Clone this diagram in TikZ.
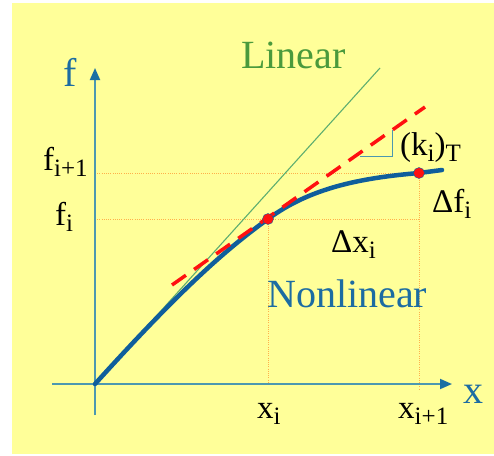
\documentclass[tikz,border=0pt]{standalone}
\usepackage{fontspec}
\setmainfont{LiberationSerif}[Extension=.ttf, UprightFont=*-Regular]
\newfontfamily\tnr{LiberationSerif}[Extension=.ttf, UprightFont=*-Regular]
\usetikzlibrary{arrows.meta}
\definecolor{bg}{HTML}{FFFF99}
\definecolor{axiscol}{HTML}{4C98B0}
\definecolor{tipcol}{HTML}{1A6FA3}
\definecolor{curvecol}{HTML}{0F5E9C}
\definecolor{bluetext}{HTML}{1C6CA2}
\definecolor{greentext}{HTML}{4A9A3C}
\definecolor{greenline}{HTML}{5EAE70}
\definecolor{dotcol}{HTML}{FFB04A}
\definecolor{redcol}{HTML}{FF1010}
\newcommand{\sbs}[1]{\raisebox{-0.2em}{\tnr\fontsize{25}{25}\selectfont #1}}
\tikzset{
  axis/.style={draw=axiscol, line width=1.8pt, -{Triangle[width=10pt,length=12pt,color=tipcol]}},
  guide/.style={draw=dotcol, line width=0.8pt, dash pattern=on 1pt off 1.2pt},
  curve/.style={draw=curvecol, line width=4.5pt, line cap=round},
  tangent/.style={draw=redcol, line width=3.5pt, dash pattern=on 17pt off 10pt},
  linline/.style={draw=greenline, line width=1.1pt},
  lab/.style={anchor=base west, inner sep=0pt, font=\tnr\fontsize{33}{38}\selectfont},
  big/.style={anchor=base west, inner sep=0pt, font=\tnr\fontsize{40}{48}\selectfont},
  pt/.style={circle, fill=redcol, draw=curvecol, line width=0.4pt, minimum size=11pt, inner sep=0pt},
  slope/.style={draw=axiscol, line width=1pt}
}
\begin{document}
\begin{tikzpicture}[x=1pt,y=-1pt]
\useasboundingbox (0,0) rectangle (494,455);
\fill[bg] (12,3) rectangle (494,454);
% coordinates
\coordinate (O) at (95,384);
\coordinate (vbot) at (95,415);
\coordinate (vtop) at (95,68);
\coordinate (hleft) at (52,384);
\coordinate (hright) at (452,384);
\coordinate (Lend) at (380,68);
\coordinate (Ts) at (172,285);
\coordinate (Te) at (425,107);
\coordinate (Cend) at (442,170);
\coordinate (fiA) at (95,219);
\coordinate (fiB) at (419,219);
\coordinate (fjA) at (95,173);
\coordinate (xiB) at (268,384);
\coordinate (xjB) at (419,390);
\coordinate (s1) at (360,156);
\coordinate (s2) at (392,156);
\coordinate (s3) at (392,130);
% guides
\draw[guide] (fjA) -- (419,173);
\draw[guide] (fiA) -- (fiB);
\draw[guide] (268,219) -- (xiB);
\draw[guide] (419,173) -- (xjB);
% axes
\draw[axis] (vbot) -- (vtop);
\draw[axis] (hleft) -- (hright);
% linear
\draw[linline] (O) -- (Lend);
% curve
\draw[curve] (O) .. controls (180,290) and (225,250) .. (268,219)
  .. controls (310,188) and (360,178) .. (419,173) -- (Cend);
% tangent
\draw[tangent] (Ts) -- (Te);
% slope mark
\draw[slope] (s1) -- (s2) -- (s3);
% points
\node[pt] (P1) at (268,219) {};
\node[pt] (P2) at (419,173) {};
% labels
\node[big, text=bluetext] (flab) at (63,86) {f};
\node[big, text=bluetext] (xlab) at (463,403) {x};
\node[big, text=greentext] (linlab) at (241,68) {Linear};
\node[big, text=bluetext] (nonlab) at (267,307) {Nonlinear};
\node[lab] (fj) at (43,170) {f\sbs{i+1}};
\node[lab] (fi) at (55,225) {f\sbs{i}};
\node[lab] (xi) at (257,418) {x\sbs{i}};
\node[lab] (xj) at (398,418) {x\sbs{i+1}};
\node[lab] (dx) at (331,252) {Δx\sbs{i}};
\node[lab] (df) at (432,212) {Δf\sbs{i}};
\node[lab] (kt) at (400,155) {(k\sbs{i})\sbs{T}};
\end{tikzpicture}
\end{document}
